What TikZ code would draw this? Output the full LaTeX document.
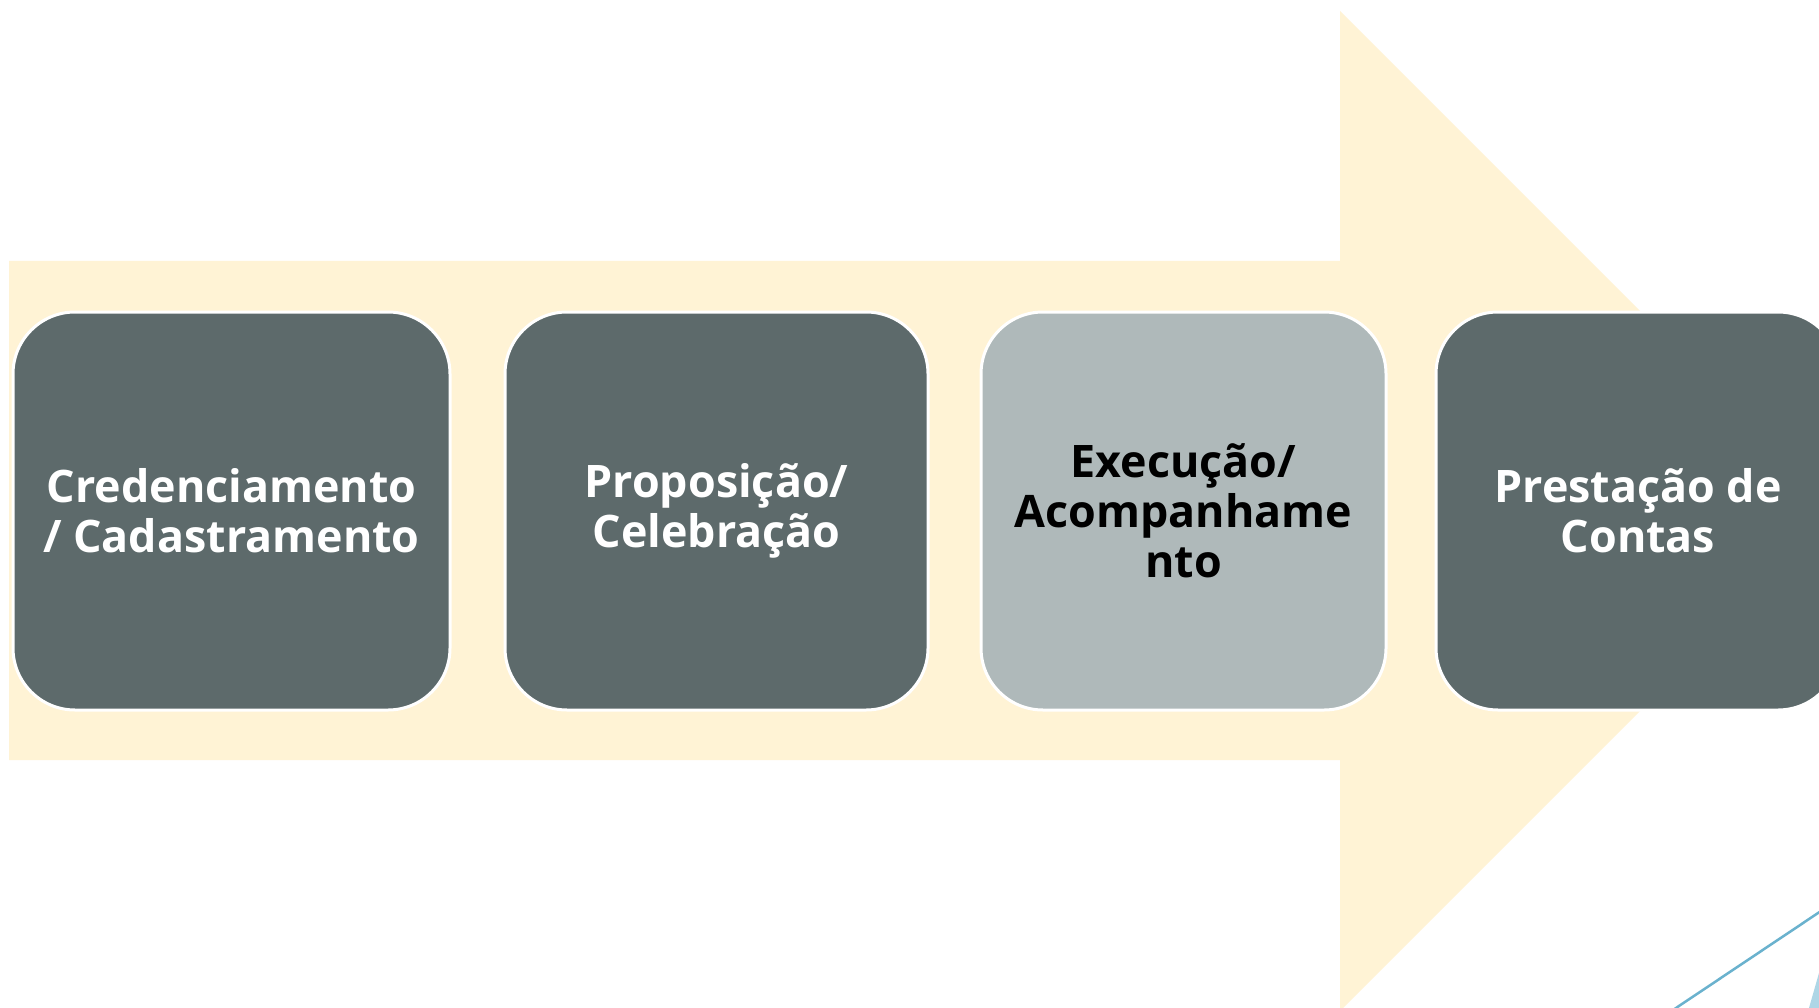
\documentclass[tikz,border=0pt]{standalone}
\usepackage{fontspec}
\setmainfont{Open Sans}
\definecolor{cream}{HTML}{FFF3D5}
\definecolor{darkbox}{HTML}{5D6A6B}
\definecolor{lightbox}{HTML}{AFB9BA}
\definecolor{blueline}{HTML}{6AB2CE}
\definecolor{bluetri}{HTML}{AED6E6}
\tikzset{
  stagebox/.style={rounded corners=62pt, draw=white, line width=3pt,
    minimum height=398pt, align=center, inner sep=0pt,
    font=\fontsize{44.8}{50}\selectfont\bfseries},
  darkstage/.style={stagebox, fill=darkbox, text=white},
  lightstage/.style={stagebox, fill=lightbox, text=black}
}
\begin{document}
\begin{tikzpicture}[x=1pt,y=-1pt]
\useasboundingbox (0,0) rectangle (1819,1008);
\clip (0,0) rectangle (1819,1008);
\fill[white] (0,0) rectangle (1819,1008);
% big arrow
\fill[cream] (9,261) -- (1340,261) -- (1340,11) -- (1840,511) -- (1340,1011) -- (1340,760) -- (9,760) -- cycle;
% stages
\node[darkstage, minimum width=437pt] (b1) at (231.5,511) {Credenciamento\\/ Cadastramento};
\node[darkstage, minimum width=423pt] (b2) at (716.5,511) {Proposição/\\Celebração};
\node[lightstage, minimum width=405pt] (b3) at (1183.5,511) {Execução/\\Acompanhame\\nto};
\node[darkstage, minimum width=404pt] (b4) at (1638,511) {Prestação de\\Contas};
% decorative corner
\coordinate (l1) at (1664,1016);
\coordinate (l2) at (1830,905);
\draw[blueline, line width=2.5pt] (l1) -- (l2);
\fill[bluetri] (1807,1015) -- (1819,973) -- (1826,948) -- (1826,1015) -- cycle;
\end{tikzpicture}
\end{document}
